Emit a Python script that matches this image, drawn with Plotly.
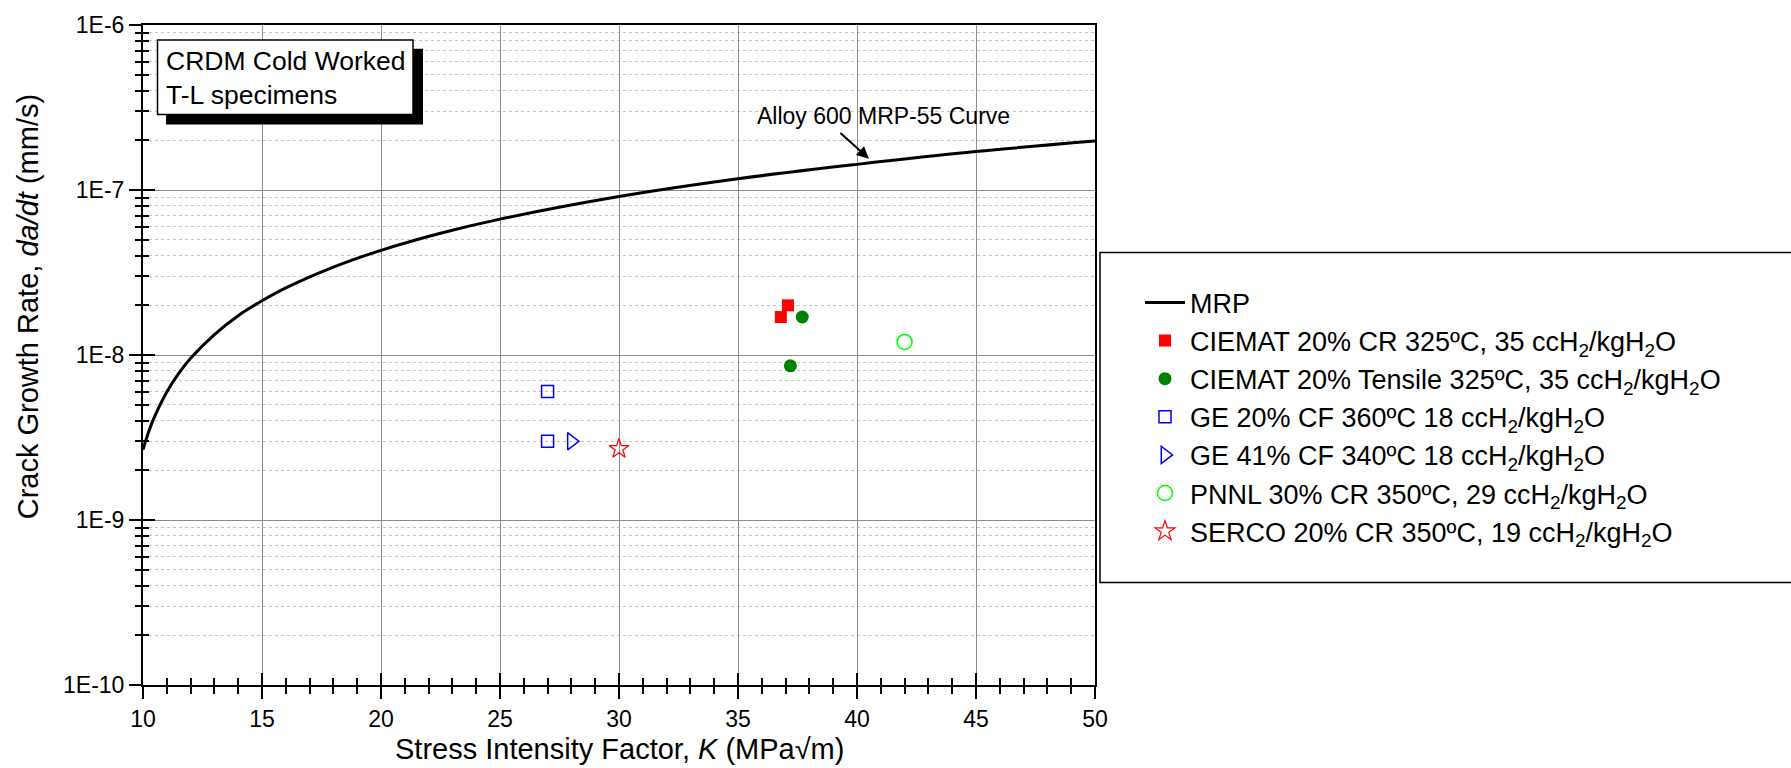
import plotly.graph_objects as go

# ---- data ----
mrp_k = [10, 10.25, 10.5, 11, 11.5, 12, 13, 14, 15, 16, 18, 20, 22.5, 25, 30, 35, 40, 45, 50]
mrp_rate = [2.67e-9, 3.46e-9, 4.27e-9, 5.97e-9, 7.73e-9, 9.55e-9, 1.33e-8, 1.73e-8, 2.13e-8,
            2.55e-8, 3.41e-8, 4.31e-8, 5.47e-8, 6.66e-8, 9.13e-8, 1.17e-7, 1.43e-7, 1.71e-7, 1.98e-7]

ciemat_cr_k = [37.1, 36.8]
ciemat_cr_rate = [2.0e-8, 1.7e-8]
ciemat_t_k = [37.7, 37.2]
ciemat_t_rate = [1.7e-8, 8.6e-9]
ge20_k = [27.0, 27.0]
ge20_rate = [6.0e-9, 3.0e-9]
ge41_k = [28.0]
ge41_rate = [3.0e-9]
pnnl_k = [42.0]
pnnl_rate = [1.2e-8]
serco_k = [30.0]
serco_rate = [2.7e-9]

y_major = [1e-10, 1e-9, 1e-8, 1e-7, 1e-6]
y_major_text = ["1E-10", "1E-9", "1E-8", "1E-7", "1E-6"]
y_minor = [m * d for d in [1e-10, 1e-9, 1e-8, 1e-7] for m in range(2, 10)]

FONT = "Liberation Sans, Arial, sans-serif"
W, H = 1791, 768
L, R, T, B = 143, 696, 21, 83
PW, PH = W - L - R, H - T - B


def px(x):
    return (x - L) / PW


def py(y):
    return (H - B - y) / PH


fig = go.Figure()
fig.add_trace(go.Scatter(x=mrp_k, y=mrp_rate, mode="lines", name="MRP",
                         line=dict(color="black", width=3, shape="spline")))
fig.add_trace(go.Scatter(x=ciemat_cr_k, y=ciemat_cr_rate, mode="markers",
                         name="CIEMAT 20% CR 325ºC, 35 ccH<sub>2</sub>/kgH<sub>2</sub>O",
                         marker=dict(symbol="square", size=12, color="#FF0000")))
fig.add_trace(go.Scatter(x=ciemat_t_k, y=ciemat_t_rate, mode="markers",
                         name="CIEMAT 20% Tensile 325ºC, 35 ccH<sub>2</sub>/kgH<sub>2</sub>O",
                         marker=dict(symbol="circle", size=13, color="#008000")))
fig.add_trace(go.Scatter(x=ge20_k, y=ge20_rate, mode="markers",
                         name="GE 20% CF 360ºC 18 ccH<sub>2</sub>/kgH<sub>2</sub>O",
                         marker=dict(symbol="square-open", size=12, color="#0000FF",
                                     line=dict(width=1.5))))
fig.add_trace(go.Scatter(x=ge41_k, y=ge41_rate, mode="markers",
                         name="GE 41% CF 340ºC 18 ccH<sub>2</sub>/kgH<sub>2</sub>O",
                         marker=dict(symbol="triangle-right-open", size=15, color="#0000FF",
                                     line=dict(width=1.5))))
fig.add_trace(go.Scatter(x=pnnl_k, y=pnnl_rate, mode="markers",
                         name="PNNL 30% CR 350ºC, 29 ccH<sub>2</sub>/kgH<sub>2</sub>O",
                         marker=dict(symbol="circle-open", size=15, color="#00FF00",
                                     line=dict(width=1.5))))
fig.add_trace(go.Scatter(x=serco_k, y=serco_rate, mode="markers",
                         name="SERCO 20% CR 350ºC, 19 ccH<sub>2</sub>/kgH<sub>2</sub>O",
                         marker=dict(symbol="star-open", size=15, color="#FF0000",
                                     line=dict(width=1.2))))
# dummy trace to register the overlay axes used for the inner half of the ticks
fig.add_trace(go.Scatter(x=[], y=[], xaxis="x2", yaxis="y2", showlegend=False,
                         hoverinfo="skip"))

axis_common = dict(showline=True, linecolor="black", linewidth=2, mirror=True,
                   tickcolor="black", tickwidth=2, ticklen=12, zeroline=False,
                   tickfont=dict(family=FONT, size=23, color="black"))

fig.update_layout(
    width=W, height=H, autosize=False,
    margin=dict(l=L, r=R, t=T, b=B),
    paper_bgcolor="white", plot_bgcolor="white",
    font=dict(family=FONT, color="black"),
    xaxis=dict(range=[10, 50], tickmode="linear", tick0=10, dtick=5, ticks="outside",
               showgrid=True, gridcolor="#8c8c8c", gridwidth=1,
               minor=dict(dtick=1, ticks="outside", ticklen=7, tickwidth=1.5,
                          tickcolor="black", showgrid=False),
               **axis_common),
    yaxis=dict(type="log", range=[-10, -6], tickmode="array", tickvals=y_major,
               ticktext=y_major_text, ticks="outside",
               showgrid=True, gridcolor="#8c8c8c", gridwidth=1,
               minor=dict(tickmode="array", tickvals=y_minor, ticks="outside", ticklen=6,
                          tickwidth=1.5, tickcolor="black", showgrid=True,
                          gridcolor="#c4c4c4", griddash="dot", gridwidth=1),
               **axis_common),
    xaxis2=dict(overlaying="x", anchor="y2", range=[10, 50], tickmode="linear", tick0=10,
                dtick=5, ticks="inside", ticklen=12, tickwidth=2, tickcolor="black",
                showticklabels=False, showgrid=False, zeroline=False, showline=False,
                minor=dict(dtick=1, ticks="inside", ticklen=7, tickwidth=1.5,
                           tickcolor="black", showgrid=False)),
    yaxis2=dict(overlaying="y", anchor="x2", type="log", range=[-10, -6], tickmode="array",
                tickvals=y_major, ticks="inside", ticklen=12, tickwidth=2, tickcolor="black",
                showticklabels=False, showgrid=False, zeroline=False, showline=False,
                minor=dict(tickmode="array", tickvals=y_minor, ticks="inside", ticklen=6,
                           tickwidth=1.5, tickcolor="black", showgrid=False)),
    legend=dict(x=px(1140), y=py(276), xanchor="left", yanchor="top",
                bgcolor="rgba(0,0,0,0)", borderwidth=0, itemwidth=40,
                font=dict(family=FONT, size=27, color="black"), tracegroupgap=0),
    showlegend=True,
)

# legend frame, text box with shadow
fig.add_shape(type="rect", xref="paper", yref="paper", x0=px(1100), x1=px(1805),
              y0=py(582), y1=py(250), line=dict(color="black", width=1.5),
              fillcolor="rgba(0,0,0,0)", layer="above")
fig.add_shape(type="rect", xref="paper", yref="paper", x0=px(166), x1=px(423),
              y0=py(121), y1=py(45), line=dict(color="black", width=0),
              fillcolor="black", layer="above")
fig.add_shape(type="rect", xref="paper", yref="paper", x0=px(157.5), x1=px(413),
              y0=py(111), y1=py(36), line=dict(color="black", width=1.5),
              fillcolor="white", layer="above")

fig.add_annotation(xref="paper", yref="paper", x=px(164), y=py(74), xanchor="left",
                   yanchor="middle", align="left", showarrow=False,
                   text="CRDM Cold Worked<br>T-L specimens",
                   font=dict(family=FONT, size=26.5, color="black"))

# curve label and arrow (annotation y on a log axis is given in log10 units)
fig.add_annotation(x=41.1, y=-6.55, xref="x", yref="y", showarrow=False,
                   text="Alloy 600 MRP-55 Curve",
                   font=dict(family=FONT, size=23, color="black"))
fig.add_annotation(x=40.5, y=-6.81, xref="x", yref="y", text="", showarrow=True,
                   ax=-30, ay=-27, arrowhead=2, arrowsize=1.2, arrowwidth=2,
                   arrowcolor="black")

# axis titles
fig.add_annotation(xref="paper", yref="paper", x=px(619), y=py(749), showarrow=False,
                   xanchor="center", yanchor="middle",
                   text="Stress Intensity Factor, <i>K</i> (MPa√m)",
                   font=dict(family=FONT, size=29, color="black"))
fig.add_annotation(xref="paper", yref="paper", x=px(28), y=py(305), showarrow=False,
                   xanchor="center", yanchor="middle", textangle=-90,
                   text="Crack Growth Rate, <i>da/dt</i> (mm/s)",
                   font=dict(family=FONT, size=29, color="black"))

fig.write_html("out.html")
